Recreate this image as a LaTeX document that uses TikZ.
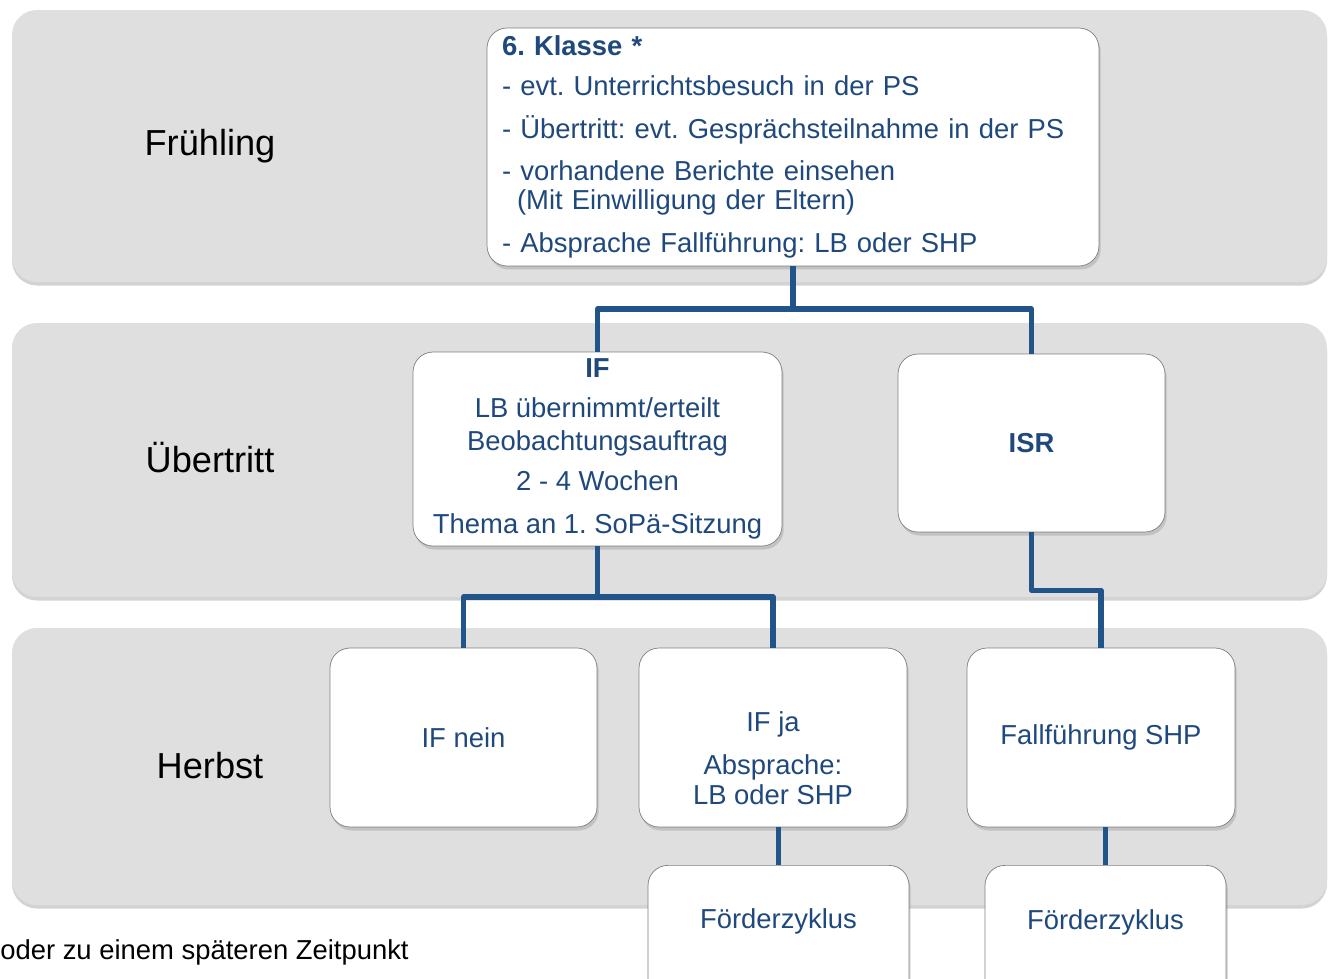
\documentclass[tikz,border=0pt]{standalone}
\usepackage{fontspec}
\setmainfont{Liberation Sans}
\usetikzlibrary{positioning, shadows, calc}
\frenchspacing
\definecolor{bandgray}{RGB}{223,223,223}
\definecolor{textblue}{RGB}{31,73,125}
\definecolor{linkblue}{RGB}{33,85,138}
\definecolor{cardline}{RGB}{128,128,128}
\newcommand{\boxfont}{\fontsize{15.6}{16.5}\selectfont}
\tikzset{
band/.style={fill=bandgray, rounded corners=0.5cm, drop shadow={shadow xshift=0pt, shadow yshift=-2pt, opacity=0.35}}, % grey season strip
card/.style={draw=cardline, fill=white, rounded corners=0.4cm, drop shadow={shadow xshift=1pt, shadow yshift=-2pt, opacity=0.3}, text=textblue, font=\boxfont, align=center, inner sep=0pt}, % white box
cardtext/.style={text=textblue, font=\boxfont, align=center, inner sep=0pt},
link/.style={draw=linkblue, line width=2.9pt, line join=round}, % blue connector
season/.style={font=\fontsize{20.6}{24}\selectfont},
}

\begin{document}
\begin{tikzpicture}[x=0.02cm, y=-0.02cm]
  \useasboundingbox (0,0) rectangle (1335,978);

  % season strips
  \path[band] (12,10) rectangle (1327,282);
  \path[band] (12,323) rectangle (1327,597);
  \path[band] (12,628) rectangle (1327,905);

  \node (fruehling) [season] at (210,146) {Frühling};
  \node (uebertritt) [season] at (210,458) {Übertritt};
  \node (herbst) [season] at (210,766) {Herbst};

  \node (klasse) [card, align=left, text width=11.64cm, inner xsep=0.3cm, minimum height=4.76cm] at (793,147)
    {\textbf{6. Klasse *}\\[6.2pt] - evt. Unterrichtsbesuch in der PS\\[7.9pt] - Übertritt: evt. Gesprächsteilnahme in der PS\\[7.9pt] - vorhandene Berichte einsehen\\ \hspace*{0.3cm}(Mit Einwilligung der Eltern)\\[7.9pt] - Absprache Fallführung: LB oder SHP};

  \node (ifbox) [card, minimum width=7.38cm, minimum height=3.88cm] at (597.5,449)
    {\textbf{IF}\\[6.2pt] LB übernimmt/erteilt\\[2.2pt] Beobachtungsauftrag\\[6.2pt] 2 - 4 Wochen\\[7.9pt] Thema an 1. SoPä-Sitzung};
  \node (isr) [card, minimum width=5.34cm, minimum height=3.56cm] at (1031.5,443) {\textbf{ISR}};

  \node (ifnein) [card, minimum width=5.34cm, minimum height=3.58cm] at (463.5,737.5) {IF nein};
  \node (ifja) [card, minimum width=5.36cm, minimum height=3.58cm] at (773,737.5) {};
  \node (ifjatext) [cardtext] at (773,758) {IF ja\\[7.9pt] Absprache:\\[0.5pt] LB oder SHP};
  \node (fall) [card, minimum width=5.36cm, minimum height=3.58cm] at (1101,737.5) {Fallführung SHP};

  \node (foerderA) [card, anchor=north, minimum width=5.22cm, minimum height=3cm] at (778.5,865) {};
  \node (foerderAtext) [cardtext] at (778.5,921) {Förderzyklus};
  \node (foerderB) [card, anchor=north, minimum width=4.82cm, minimum height=3cm] at (1105.5,865) {};
  \node (foerderBtext) [cardtext] at (1105.5,922) {Förderzyklus};

  \node (fussnote) [anchor=west, font=\boxfont, inner sep=0pt] at (0,952) {oder zu einem späteren Zeitpunkt};

  % connectors
  \coordinate (forkA) at (793,309);
  \draw[link] (klasse.south) -- (forkA) -| (ifbox.north);
  \draw[link] (forkA) -| (isr.north);
  \coordinate (forkB) at (597.5,597);
  \draw[link] (ifbox.south) -- (forkB) -| (ifnein.north);
  \draw[link] (forkB) -| (ifja.north);
  \draw[link] (isr.south) -- ++(0,58) -| (fall.north);
  \draw[link] (foerderA.north) -- (foerderA.north |- ifja.south);
  \draw[link] (foerderB.north) -- (foerderB.north |- fall.south);
\end{tikzpicture}
\end{document}
